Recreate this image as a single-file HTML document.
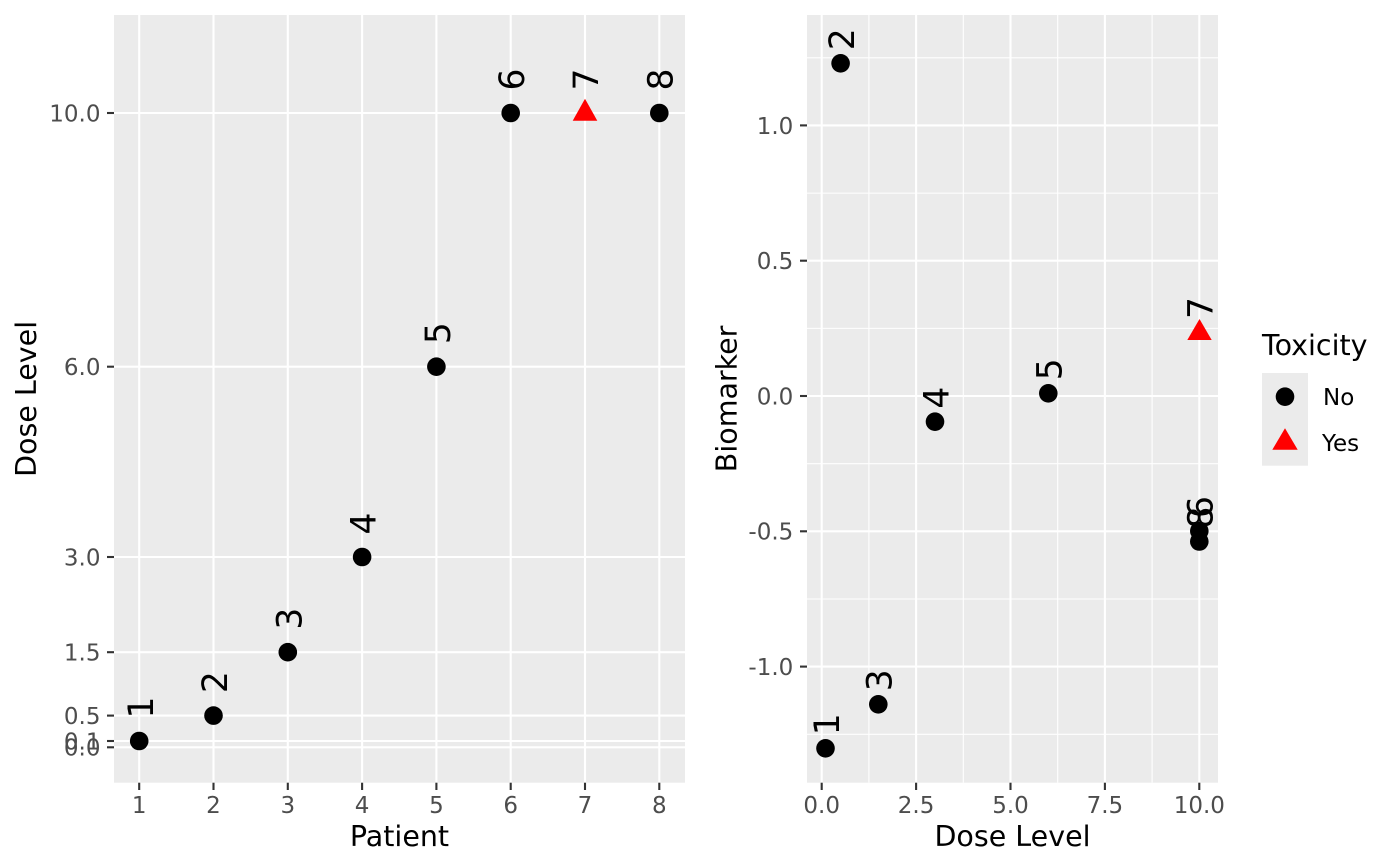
<!DOCTYPE html>
<html>
<head>
<meta charset="utf-8">
<style>
html,body{margin:0;padding:0;background:#fff;}
svg{display:block;}
text{font-family:"DejaVu Sans","Liberation Sans",sans-serif;}
.tick{font-size:23px;fill:#4D4D4D;}
.title{font-size:28.5px;fill:#000;}
.lab{font-size:34.5px;fill:#000;}
.leg{font-size:23px;fill:#000;}
</style>
</head>
<body>
<svg width="1400" height="866" viewBox="0 0 1400 866" xmlns="http://www.w3.org/2000/svg">
<rect x="0" y="0" width="1400" height="866" fill="#fff"/>

<!-- LEFT PANEL -->
<rect x="114" y="15" width="571" height="767.7" fill="#EBEBEB"/>
<g stroke="#fff" stroke-width="2.1">
  <line x1="114" x2="685" y1="747.3" y2="747.3"/>
  <line x1="114" x2="685" y1="741.0" y2="741.0"/>
  <line x1="114" x2="685" y1="715.6" y2="715.6"/>
  <line x1="114" x2="685" y1="652.2" y2="652.2"/>
  <line x1="114" x2="685" y1="557.0" y2="557.0"/>
  <line x1="114" x2="685" y1="366.7" y2="366.7"/>
  <line x1="114" x2="685" y1="113.0" y2="113.0"/>
  <line y1="15" y2="782.7" x1="139.2" x2="139.2"/>
  <line y1="15" y2="782.7" x1="213.5" x2="213.5"/>
  <line y1="15" y2="782.7" x1="287.8" x2="287.8"/>
  <line y1="15" y2="782.7" x1="362.1" x2="362.1"/>
  <line y1="15" y2="782.7" x1="436.4" x2="436.4"/>
  <line y1="15" y2="782.7" x1="510.7" x2="510.7"/>
  <line y1="15" y2="782.7" x1="585.0" x2="585.0"/>
  <line y1="15" y2="782.7" x1="659.3" x2="659.3"/>
</g>
<!-- left ticks -->
<g stroke="#333" stroke-width="2.1">
  <line x1="107" x2="114" y1="747.3" y2="747.3"/>
  <line x1="107" x2="114" y1="741.0" y2="741.0"/>
  <line x1="107" x2="114" y1="715.6" y2="715.6"/>
  <line x1="107" x2="114" y1="652.2" y2="652.2"/>
  <line x1="107" x2="114" y1="557.0" y2="557.0"/>
  <line x1="107" x2="114" y1="366.7" y2="366.7"/>
  <line x1="107" x2="114" y1="113.0" y2="113.0"/>
  <line y1="782.7" y2="790" x1="139.2" x2="139.2"/>
  <line y1="782.7" y2="790" x1="213.5" x2="213.5"/>
  <line y1="782.7" y2="790" x1="287.8" x2="287.8"/>
  <line y1="782.7" y2="790" x1="362.1" x2="362.1"/>
  <line y1="782.7" y2="790" x1="436.4" x2="436.4"/>
  <line y1="782.7" y2="790" x1="510.7" x2="510.7"/>
  <line y1="782.7" y2="790" x1="585.0" x2="585.0"/>
  <line y1="782.7" y2="790" x1="659.3" x2="659.3"/>
</g>
<g class="tick" text-anchor="end">
  <text x="100.5" y="747.3" dy="0.365em">0.0</text>
  <text x="100.5" y="741.0" dy="0.365em">0.1</text>
  <text x="100.5" y="715.6" dy="0.365em">0.5</text>
  <text x="100.5" y="652.2" dy="0.365em">1.5</text>
  <text x="100.5" y="557.0" dy="0.365em">3.0</text>
  <text x="100.5" y="366.7" dy="0.365em">6.0</text>
  <text x="100.5" y="113.0" dy="0.365em">10.0</text>
</g>
<g class="tick" text-anchor="middle">
  <text x="139.2" y="813">1</text>
  <text x="213.5" y="813">2</text>
  <text x="287.8" y="813">3</text>
  <text x="362.1" y="813">4</text>
  <text x="436.4" y="813">5</text>
  <text x="510.7" y="813">6</text>
  <text x="585.0" y="813">7</text>
  <text x="659.3" y="813">8</text>
</g>
<text class="title" x="399.5" y="846" text-anchor="middle">Patient</text>
<text class="title" text-anchor="middle" transform="translate(36,398.9) rotate(-90)">Dose Level</text>

<!-- left points -->
<g fill="#000">
  <circle cx="139.2" cy="741.0" r="9.3"/>
  <circle cx="213.5" cy="715.6" r="9.3"/>
  <circle cx="287.8" cy="652.2" r="9.3"/>
  <circle cx="362.1" cy="557.0" r="9.3"/>
  <circle cx="436.4" cy="366.7" r="9.3"/>
  <circle cx="510.7" cy="113.0" r="9.3"/>
  <circle cx="659.3" cy="113.0" r="9.3"/>
</g>
<polygon points="585,98.7 572.7,120.7 597.3,120.7" fill="#FF0000"/>
<g class="lab" text-anchor="middle">
  <text transform="translate(140.2,707.5) rotate(-90)" dy="0.365em">1</text>
  <text transform="translate(214.5,682.1) rotate(-90)" dy="0.365em">2</text>
  <text transform="translate(288.8,618.7) rotate(-90)" dy="0.365em">3</text>
  <text transform="translate(363.1,523.5) rotate(-90)" dy="0.365em">4</text>
  <text transform="translate(437.4,333.2) rotate(-90)" dy="0.365em">5</text>
  <text transform="translate(511.2,79.5) rotate(-90)" dy="0.365em">6</text>
  <text transform="translate(585.5,79.5) rotate(-90)" dy="0.365em">7</text>
  <text transform="translate(659.8,79.5) rotate(-90)" dy="0.365em">8</text>
</g>

<!-- RIGHT PANEL -->
<rect x="807" y="15" width="411" height="767.7" fill="#EBEBEB"/>
<g stroke="#fff" stroke-width="1.05">
  <line x1="807" x2="1218" y1="734.3" y2="734.3"/>
  <line x1="807" x2="1218" y1="599.0" y2="599.0"/>
  <line x1="807" x2="1218" y1="463.7" y2="463.7"/>
  <line x1="807" x2="1218" y1="328.4" y2="328.4"/>
  <line x1="807" x2="1218" y1="193.1" y2="193.1"/>
  <line x1="807" x2="1218" y1="57.8" y2="57.8"/>
  <line y1="15" y2="782.7" x1="868.9" x2="868.9"/>
  <line y1="15" y2="782.7" x1="963.3" x2="963.3"/>
  <line y1="15" y2="782.7" x1="1057.7" x2="1057.7"/>
  <line y1="15" y2="782.7" x1="1152.1" x2="1152.1"/>
</g>
<g stroke="#fff" stroke-width="2.1">
  <line x1="807" x2="1218" y1="666.6" y2="666.6"/>
  <line x1="807" x2="1218" y1="531.3" y2="531.3"/>
  <line x1="807" x2="1218" y1="396.0" y2="396.0"/>
  <line x1="807" x2="1218" y1="260.7" y2="260.7"/>
  <line x1="807" x2="1218" y1="125.4" y2="125.4"/>
  <line y1="15" y2="782.7" x1="821.7" x2="821.7"/>
  <line y1="15" y2="782.7" x1="916.1" x2="916.1"/>
  <line y1="15" y2="782.7" x1="1010.5" x2="1010.5"/>
  <line y1="15" y2="782.7" x1="1104.9" x2="1104.9"/>
  <line y1="15" y2="782.7" x1="1199.3" x2="1199.3"/>
</g>
<g stroke="#333" stroke-width="2.1">
  <line x1="800" x2="807" y1="666.6" y2="666.6"/>
  <line x1="800" x2="807" y1="531.3" y2="531.3"/>
  <line x1="800" x2="807" y1="396.0" y2="396.0"/>
  <line x1="800" x2="807" y1="260.7" y2="260.7"/>
  <line x1="800" x2="807" y1="125.4" y2="125.4"/>
  <line y1="782.7" y2="790" x1="821.7" x2="821.7"/>
  <line y1="782.7" y2="790" x1="916.1" x2="916.1"/>
  <line y1="782.7" y2="790" x1="1010.5" x2="1010.5"/>
  <line y1="782.7" y2="790" x1="1104.9" x2="1104.9"/>
  <line y1="782.7" y2="790" x1="1199.3" x2="1199.3"/>
</g>
<g class="tick" text-anchor="end">
  <text x="793.3" y="666.6" dy="0.365em">-1.0</text>
  <text x="793.3" y="531.3" dy="0.365em">-0.5</text>
  <text x="793.3" y="396.0" dy="0.365em">0.0</text>
  <text x="793.3" y="260.7" dy="0.365em">0.5</text>
  <text x="793.3" y="125.4" dy="0.365em">1.0</text>
</g>
<g class="tick" text-anchor="middle">
  <text x="821.7" y="813">0.0</text>
  <text x="916.1" y="813">2.5</text>
  <text x="1010.5" y="813">5.0</text>
  <text x="1104.9" y="813">7.5</text>
  <text x="1199.3" y="813">10.0</text>
</g>
<text class="title" x="1012.5" y="846" text-anchor="middle">Dose Level</text>
<text class="title" text-anchor="middle" transform="translate(736.5,398.9) rotate(-90)">Biomarker</text>

<!-- right points -->
<g fill="#000">
  <circle cx="825.5" cy="748.3" r="9.3"/>
  <circle cx="840.6" cy="63.3" r="9.3"/>
  <circle cx="878.3" cy="704.3" r="9.3"/>
  <circle cx="935.0" cy="421.7" r="9.3"/>
  <circle cx="1048.3" cy="393.3" r="9.3"/>
  <circle cx="1199.3" cy="531.0" r="9.3"/>
  <circle cx="1199.3" cy="541.5" r="9.3"/>
</g>
<polygon points="1199.5,319 1187.3,340 1211.7,340" fill="#FF0000"/>
<g class="lab" text-anchor="middle">
  <text transform="translate(826.2,724.3) rotate(-90)" dy="0.365em">1</text>
  <text transform="translate(841.2,39.3) rotate(-90)" dy="0.365em">2</text>
  <text transform="translate(879.0,680.3) rotate(-90)" dy="0.365em">3</text>
  <text transform="translate(935.8,397.7) rotate(-90)" dy="0.365em">4</text>
  <text transform="translate(1049.0,369.3) rotate(-90)" dy="0.365em">5</text>
  <text transform="translate(1199.8,517.5) rotate(-90)" dy="0.365em">8</text>
  <text transform="translate(1199.8,507.0) rotate(-90)" dy="0.365em">6</text>
  <text transform="translate(1199.8,308.0) rotate(-90)" dy="0.365em">7</text>
</g>

<!-- LEGEND -->
<text class="title" x="1262" y="355">Toxicity</text>
<rect x="1262" y="373" width="46" height="92.7" fill="#EBEBEB"/>
<circle cx="1285" cy="396.7" r="9.3" fill="#000"/>
<polygon points="1285,428.3 1272.3,449.7 1297.7,449.7" fill="#FF0000"/>
<text class="leg" x="1323" y="405">No</text>
<text class="leg" x="1322" y="451">Yes</text>
</svg>
</body>
</html>
